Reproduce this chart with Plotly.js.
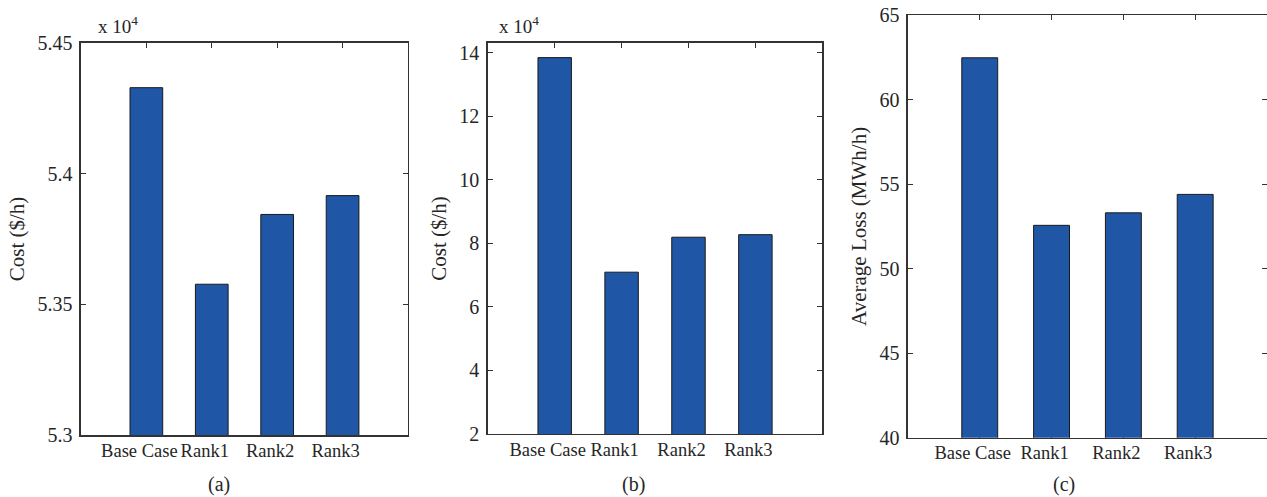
<!DOCTYPE html>
<html>
<head>
<meta charset="utf-8">
<script src="https://cdn.plot.ly/plotly-3.0.1.min.js"></script>
<style>html,body{margin:0;padding:0;background:#fff;}#chart{width:1267px;height:497px;}</style>
</head>
<body>
<div id="chart"></div>
<script>
// Data
const categories = ["Base Case", "Rank1", "Rank2", "Rank3"];
const costA = [5.4329, 5.3577, 5.3844, 5.3916];   // x 10^4 $/h
const costB = [13.84, 7.09, 8.19, 8.27];          // x 10^4 $/h
const lossC = [62.47, 52.56, 53.30, 54.39];       // MWh/h

const barColor = "#1f56a6";
const FONT = "Liberation Serif, Times New Roman, serif";
const txt = "#262626";

function bar(y, xa, ya) {
  return {
    type: "bar", x: categories, y: y, xaxis: xa, yaxis: ya,
    width: 0.5, marker: {color: barColor, line: {color: "#1a1a1a", width: 1}},
    hoverinfo: "x+y", showlegend: false
  };
}

function xAx(domain) {
  return {
    domain: domain, type: "category", range: [-1, 4],
    tickmode: "array", tickvals: categories, ticktext: categories,
    ticks: "inside", ticklen: 5, tickcolor: "#333", mirror: "ticks",
    showline: true, linecolor: "#333", linewidth: 1.5,
    showgrid: false, zeroline: false, layer: "below traces",
    tickfont: {family: FONT, size: 18.5, color: txt},
    ticklabelshift: -7, ticklabelstandoff: -2, fixedrange: true
  };
}
function yAx(domain, range, dtick, title) {
  return {
    domain: domain, range: range, dtick: dtick, tick0: 0,
    ticks: "inside", ticklen: 5, tickcolor: "#333", mirror: "ticks",
    showline: true, linecolor: "#333", linewidth: 1.5,
    showgrid: false, zeroline: false, layer: "below traces",
    tickfont: {family: FONT, size: 20, color: txt},
    ticklabelstandoff: 3,
    title: {text: title, font: {family: FONT, size: 21, color: txt}, standoff: 7},
    fixedrange: true
  };
}

const data = [bar(costA, "x", "y"), bar(costB, "x2", "y2"), bar(lossC, "x3", "y3")];

const annFont = {family: FONT, size: 19, color: txt};
const capFont = {family: FONT, size: 20, color: txt};

const layout = {
  width: 1267, height: 497,
  margin: {l: 0, r: 0, t: 0, b: 0},
  paper_bgcolor: "#fff", plot_bgcolor: "#fff",
  bargap: 0,
  xaxis: xAx([0.0639, 0.322]),
  yaxis: Object.assign(yAx([0.1247, 0.9135], [5.3, 5.45], 0.05, "Cost ($/h)"), {anchor: "x"}),
  xaxis2: Object.assign(xAx([0.385, 0.649]), {anchor: "y2"}),
  yaxis2: Object.assign(yAx([0.1268, 0.9135], [2, 14.3], 2, "Cost ($/h)"), {anchor: "x2"}),
  xaxis3: Object.assign(xAx([0.7166, 1.0]), {anchor: "y3"}),
  yaxis3: Object.assign(yAx([0.1193, 0.9698], [40, 65], 5, "Average Loss (MWh/h)"), {anchor: "x3"}),
  annotations: [
    {text: "x 10<sup>4</sup>", xref: "paper", yref: "paper", x: 96/1267, y: 1 - 39/497, xanchor: "left", yanchor: "bottom", showarrow: false, font: annFont},
    {text: "x 10<sup>4</sup>", xref: "paper", yref: "paper", x: 497/1267, y: 1 - 39/497, xanchor: "left", yanchor: "bottom", showarrow: false, font: annFont},
    {text: "(a)", xref: "paper", yref: "paper", x: 219/1267, y: 1 - 484/497, xanchor: "center", yanchor: "middle", showarrow: false, font: capFont},
    {text: "(b)", xref: "paper", yref: "paper", x: 633/1267, y: 1 - 484/497, xanchor: "center", yanchor: "middle", showarrow: false, font: capFont},
    {text: "(c)", xref: "paper", yref: "paper", x: 1064/1267, y: 1 - 484/497, xanchor: "center", yanchor: "middle", showarrow: false, font: capFont}
  ]
};

Plotly.newPlot("chart", data, layout, {displayModeBar: false, staticPlot: true});
</script>
</body>
</html>
